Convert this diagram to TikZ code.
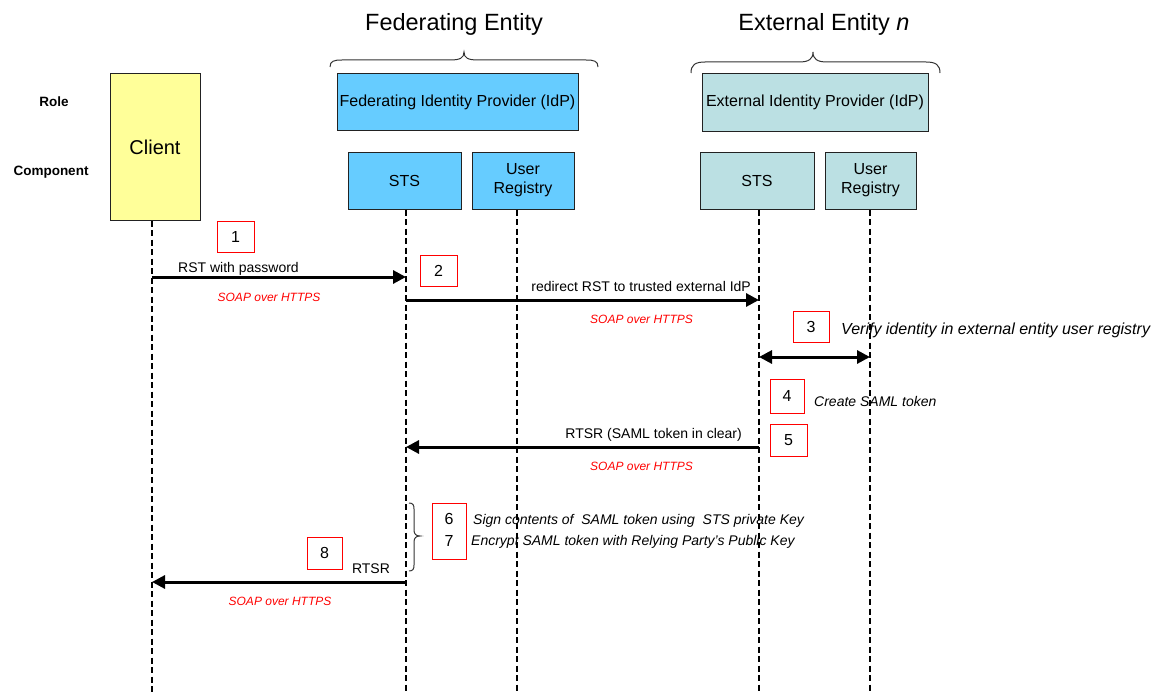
\documentclass[tikz,border=0pt]{standalone}
\usepackage{fontspec}
\setmainfont{Liberation Sans}
\usetikzlibrary{arrows.meta}
\definecolor{clientyellow}{HTML}{FFFF99}
\definecolor{fedblue}{HTML}{66CCFF}
\definecolor{extteal}{HTML}{BBE0E3}
\definecolor{boxline}{HTML}{222222}
\begin{document}
\begin{tikzpicture}[x=1pt,y=-1pt,
  box/.style={draw=boxline,line width=1pt,inner sep=0pt,align=center,font=\fontsize{16}{19}\selectfont},
  stepbox/.style={draw=red,line width=0.8pt,inner sep=0pt,align=center,font=\fontsize{16}{22}\selectfont},
  lifeline/.style={line width=2pt,dash pattern=on 6pt off 3.5pt},
  msg/.style={line width=3pt,-{Triangle[length=13pt,width=13pt]}},
  dmsg/.style={line width=3pt,{Triangle[length=13pt,width=13pt]}-{Triangle[length=13pt,width=13pt]}},
  title/.style={anchor=base,inner sep=0pt,font=\fontsize{23.5}{28}\selectfont},
  rowlabel/.style={inner sep=0pt,font=\fontsize{13.5}{16}\selectfont\bfseries},
  msglabel/.style={inner sep=0pt,font=\fontsize{14}{17}\selectfont},
  soap/.style={anchor=base,inner sep=0pt,text=red,font=\fontsize{12}{14}\selectfont\itshape},
  note/.style={anchor=base west,inner sep=0pt,font=\fontsize{14}{17}\selectfont\itshape},
  brace/.style={line width=1pt,draw=black!80}]
\useasboundingbox (0,0) rectangle (1157,693);

% titles and braces
\node[title] (fedtitle) at (454,31) {Federating Entity};
\node[title] (exttitle) at (824,31) {External Entity \textit{n}};
\draw[brace] (330,67) .. controls (330,61) and (334,60) .. (342,60) -- (450,60)
  .. controls (460,60) and (464,58) .. (464,52) .. controls (464,58) and (468,60) .. (478,60)
  -- (586,60) .. controls (594,60) and (598,61) .. (598,67);
\draw[brace] (691,73) .. controls (691,65) and (695,62) .. (705,62) -- (799,62)
  .. controls (809,62) and (813,59) .. (813,52) .. controls (813,59) and (817,62) .. (827,62)
  -- (926,62) .. controls (936,62) and (940,65) .. (940,73);

% row labels
\node[rowlabel] (role) at (54,102) {Role};
\node[rowlabel] (component) at (51,172) {Component};

% boxes
\node[box,fill=clientyellow,minimum width=90pt,minimum height=146pt,font=\fontsize{20}{24}\selectfont] (client) at (155,147) {Client};
\node[box,fill=fedblue,minimum width=241pt,minimum height=56pt] (fedidp) at (457.5,102) {Federating Identity Provider (IdP)};
\node[box,fill=fedblue,minimum width=113pt,minimum height=57pt] (fedsts) at (404.5,180.5) {STS};
\node[box,fill=fedblue,minimum width=102pt,minimum height=57pt] (fedur) at (523,180.5) {User\\Registry};
\node[box,fill=extteal,minimum width=226pt,minimum height=57pt] (extidp) at (815,102.5) {External Identity Provider (IdP)};
\node[box,fill=extteal,minimum width=114pt,minimum height=57pt] (extsts) at (757,180.5) {STS};
\node[box,fill=extteal,minimum width=91pt,minimum height=57pt] (extur) at (870.5,180.5) {User\\Registry};

% lifeline x positions (bottom ends)
\coordinate (xcl) at (152,693);
\coordinate (xfsts) at (406,693);
\coordinate (xfur) at (517,693);
\coordinate (xests) at (759,693);
\coordinate (xeur) at (870,693);
\draw[lifeline] (client.south -| xcl) -- (xcl);
\draw[lifeline] (fedsts.south -| xfsts) -- (xfsts);
\draw[lifeline] (fedur.south -| xfur) -- (xfur);
\draw[lifeline] (extsts.south -| xests) -- (xests);
\draw[lifeline] (extur.south -| xeur) -- (xeur);

% message rows
\coordinate (r1) at (0,277);
\coordinate (r2) at (0,300);
\coordinate (r3) at (0,357);
\coordinate (r5) at (0,447);
\coordinate (r8) at (0,582);

% step 1
\node[stepbox,minimum width=37pt,minimum height=31pt] (s1) at (235.5,236.5) {1};
\draw[msg] (xcl |- r1) -- (xfsts |- r1);
\node[msglabel,anchor=base west] (l1) at (178,272.5) {RST with password};
\node[soap] (p1) at (269,301) {SOAP over HTTPS};

% step 2
\node[stepbox,minimum width=37pt,minimum height=31pt] (s2) at (438.5,270.5) {2};
\draw[msg] (xfsts |- r2) -- (xests |- r2);
\node[msglabel,anchor=base east] (l2) at (751,291) {redirect RST to trusted external IdP};
\node[soap] (p2) at (641.5,323) {SOAP over HTTPS};

% step 3
\node[stepbox,minimum width=36pt,minimum height=31pt] (s3) at (811,326.5) {3};
\draw[dmsg] (xests |- r3) -- (xeur |- r3);
\node[anchor=base west,inner sep=0pt,font=\fontsize{16}{19}\selectfont\itshape] (l3) at (841,334) {Verify identity in external entity user registry};

% step 4
\node[stepbox,minimum width=34pt,minimum height=34pt] (s4) at (787,396) {4};
\node[note] (l4) at (814,406) {Create SAML token};

% step 5
\node[stepbox,minimum width=37pt,minimum height=32pt] (s5) at (788.5,440) {5};
\draw[msg] (xests |- r5) -- (xfsts |- r5);
\node[msglabel,anchor=base east] (l5) at (742,438.5) {RTSR (SAML token in clear)};
\node[soap] (p5) at (641.5,470) {SOAP over HTTPS};

% steps 6 and 7
\draw[brace] (409,503) .. controls (413,503) and (414,505) .. (414,509) -- (414,530)
  .. controls (414,534) and (416,536) .. (420,536) .. controls (416,536) and (414,538) .. (414,542)
  -- (414,565) .. controls (414,569) and (413,571) .. (409,571);
\node[stepbox,minimum width=34pt,minimum height=56pt] (s67) at (449,531) {};
\node[inner sep=0pt,font=\fontsize{16}{19}\selectfont] (n6) at (449,519) {6};
\node[inner sep=0pt,font=\fontsize{16}{19}\selectfont] (n7) at (449,541) {7};
\node[note] (l6) at (473,524) {Sign contents of\ \ SAML token using\ \ STS private Key};
\node[note] (l7) at (471,545.5) {Encrypt SAML token with Relying Party’s Public Key};

% step 8
\node[stepbox,minimum width=35pt,minimum height=32pt] (s8) at (324.5,553) {8};
\draw[msg] (xfsts |- r8) -- (xcl |- r8);
\node[msglabel,anchor=base] (l8) at (371,573) {RTSR};
\node[soap] (p8) at (280,605) {SOAP over HTTPS};
\end{tikzpicture}
\end{document}
